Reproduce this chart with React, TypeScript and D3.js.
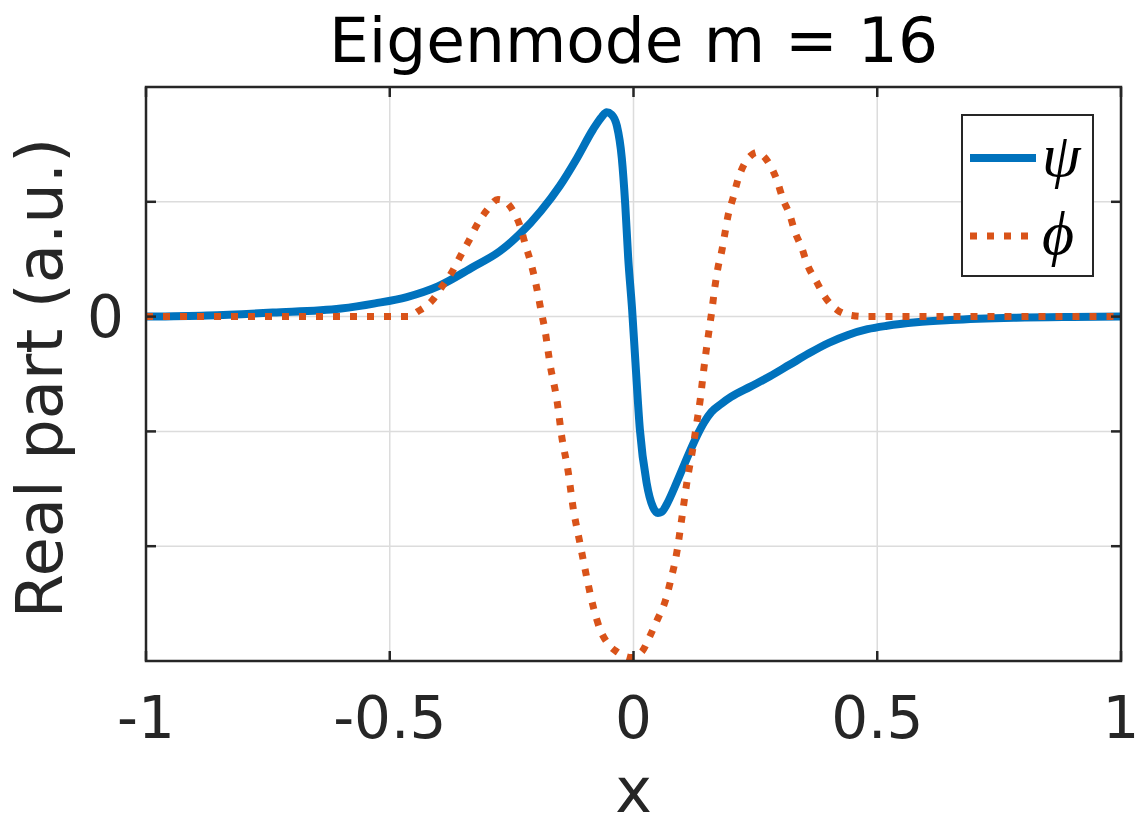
import { useMemo } from "react";
import * as d3 from "d3";

// psi (solid blue)
const psiX = [-1, -0.875, -0.74, -0.6, -0.53, -0.465, -0.4, -0.33, -0.274, -0.233, -0.19, -0.151, -0.116, -0.083, -0.065, -0.055, -0.045, -0.034, -0.024, -0.017, -0.011, -0.003, 0.004, 0.013, 0.027, 0.04, 0.05, 0.058, 0.07, 0.085, 0.1, 0.115, 0.13, 0.145, 0.16, 0.18, 0.2, 0.24, 0.28, 0.32, 0.36, 0.4, 0.44, 0.48, 0.52, 0.58, 0.65, 0.78, 0.9, 1];
const psiY = [0, 0.01, 0.035, 0.07, 0.115, 0.17, 0.265, 0.43, 0.57, 0.72, 0.92, 1.14, 1.38, 1.63, 1.74, 1.78, 1.76, 1.66, 1.38, 0.98, 0.52, 0.07, -0.4, -0.98, -1.45, -1.66, -1.71, -1.7, -1.62, -1.48, -1.33, -1.18, -1.04, -0.92, -0.83, -0.76, -0.7, -0.61, -0.52, -0.42, -0.32, -0.23, -0.16, -0.11, -0.08, -0.05, -0.03, -0.01, -0.003, 0];

// phi (dotted orange)
const phiX = [-1, -0.6, -0.46, -0.444, -0.413, -0.393, -0.372, -0.356, -0.339, -0.321, -0.3, -0.278, -0.262, -0.247, -0.232, -0.222, -0.21, -0.2, -0.19, -0.1815, -0.171, -0.157, -0.147, -0.134, -0.124, -0.11, -0.096, -0.083, -0.069, -0.052, -0.034, -0.017, -0.004, 0.017, 0.034, 0.05, 0.065, 0.075, 0.089, 0.099, 0.11, 0.122, 0.13, 0.137, 0.143, 0.149, 0.155, 0.161, 0.167, 0.173, 0.1815, 0.1877, 0.194, 0.204, 0.214, 0.2287, 0.24, 0.253, 0.266, 0.28, 0.294, 0.306, 0.321, 0.331, 0.345, 0.357, 0.376, 0.393, 0.417, 0.448, 0.48, 1];
const phiY = [0, 0, 0, 0.04, 0.14, 0.26, 0.39, 0.52, 0.65, 0.8, 0.93, 1.02, 1.0, 0.92, 0.78, 0.63, 0.46, 0.28, 0.06, -0.12, -0.42, -0.73, -1.05, -1.35, -1.66, -1.97, -2.27, -2.52, -2.72, -2.85, -2.92, -2.96, -2.97, -2.92, -2.78, -2.63, -2.48, -2.32, -2.05, -1.76, -1.43, -1.14, -0.92, -0.72, -0.5, -0.3, -0.12, 0.06, 0.26, 0.42, 0.58, 0.73, 0.88, 1.03, 1.19, 1.34, 1.4, 1.43, 1.4, 1.32, 1.19, 1.03, 0.88, 0.74, 0.6, 0.45, 0.3, 0.17, 0.06, 0.01, 0, 0];

const xTicks = [-1, -0.5, 0, 0.5, 1];
const xTickLabels = ["-1", "-0.5", "0", "0.5", "1"];
const yTicks = [-2, -1, 0, 1];
const yTickLabels = ["", "", "0", ""];

const W = 1138;
const H = 831;
const M = { left: 146, right: 1121, top: 87, bottom: 661 };
const BLUE = "#0072BD";
const ORANGE = "#D95319";
const AXIS = "#262626";
const FONT = "DejaVu Sans, sans-serif";

export default function App() {
  const x = d3.scaleLinear().domain([-1, 1]).range([M.left, M.right]);
  const y = d3.scaleLinear().domain([-3, 2]).range([M.bottom, M.top]);

  const paths = useMemo(() => {
    const line = d3
      .line<[number, number]>()
      .x((d) => x(d[0]))
      .y((d) => y(d[1]))
      .curve(d3.curveMonotoneX);
    return {
      psi: line(psiX.map((v, i) => [v, psiY[i]]))!,
      phi: line(phiX.map((v, i) => [v, phiY[i]]))!,
    };
  }, []);

  const tick = 10;

  return (
    <svg
      width={W}
      height={H}
      style={{ position: "absolute", left: 0, top: 0, background: "white" }}
      fontFamily={FONT}
    >
      <defs>
        <clipPath id="plot-clip">
          <rect x={M.left} y={M.top} width={M.right - M.left} height={M.bottom - M.top} />
        </clipPath>
      </defs>

      {/* grid */}
      {xTicks.slice(1, -1).map((t) => (
        <line key={`gx${t}`} x1={x(t)} x2={x(t)} y1={M.top} y2={M.bottom} stroke="#dcdcdc" strokeWidth={1.5} />
      ))}
      {yTicks.map((t) => (
        <line key={`gy${t}`} x1={M.left} x2={M.right} y1={y(t)} y2={y(t)} stroke="#dcdcdc" strokeWidth={1.5} />
      ))}

      {/* curves */}
      <g clipPath="url(#plot-clip)">
        <path d={paths.psi} fill="none" stroke={BLUE} strokeWidth={8} strokeLinejoin="round" />
        <path d={paths.phi} fill="none" stroke={ORANGE} strokeWidth={7} strokeDasharray="7 10" />
      </g>

      {/* box */}
      <rect
        x={M.left}
        y={M.top}
        width={M.right - M.left}
        height={M.bottom - M.top}
        fill="none"
        stroke={AXIS}
        strokeWidth={2.5}
      />

      {/* ticks, inward on all four sides */}
      {xTicks.map((t) => (
        <g key={`tx${t}`} stroke={AXIS} strokeWidth={2.5}>
          <line x1={x(t)} x2={x(t)} y1={M.bottom} y2={M.bottom - tick} />
          <line x1={x(t)} x2={x(t)} y1={M.top} y2={M.top + tick} />
        </g>
      ))}
      {yTicks.map((t) => (
        <g key={`ty${t}`} stroke={AXIS} strokeWidth={2.5}>
          <line x1={M.left} x2={M.left + tick} y1={y(t)} y2={y(t)} />
          <line x1={M.right} x2={M.right - tick} y1={y(t)} y2={y(t)} />
        </g>
      ))}

      {/* tick labels */}
      {xTicks.map((t, i) => (
        <text key={`lx${t}`} x={x(t)} y={738} textAnchor="middle" fontSize={58} fill={AXIS}>
          {xTickLabels[i]}
        </text>
      ))}
      {yTicks.map((t, i) => (
        <text key={`ly${t}`} x={M.left - 22} y={y(t)} dy="0.36em" textAnchor="end" fontSize={58} fill={AXIS}>
          {yTickLabels[i]}
        </text>
      ))}

      {/* axis labels and title */}
      <text x={x(0)} y={812} textAnchor="middle" fontSize={62} fill={AXIS}>
        x
      </text>
      <text
        transform={`translate(62, ${(M.top + M.bottom) / 2 + 4}) rotate(-90)`}
        textAnchor="middle"
        fontSize={64}
        fill={AXIS}
      >
        Real part (a.u.)
      </text>
      <text x={x(0)} y={62} textAnchor="middle" fontSize={63} fill="#000">
        Eigenmode m = 16
      </text>

      {/* legend */}
      <g>
        <rect x={962} y={115} width={131} height={161} fill="white" stroke={AXIS} strokeWidth={2} />
        <line x1={970} x2={1036} y1={158} y2={158} stroke={BLUE} strokeWidth={8} />
        <line x1={970} x2={1036} y1={236} y2={236} stroke={ORANGE} strokeWidth={7} strokeDasharray="7 10" />
        <text x={1042} y={176} fontFamily="Liberation Serif, serif" fontStyle="italic" fontSize={62} fill="#000">
          ψ
        </text>
        <text x={1042} y={254} fontFamily="Liberation Serif, serif" fontStyle="italic" fontSize={62} fill="#000">
          ϕ
        </text>
      </g>
    </svg>
  );
}
